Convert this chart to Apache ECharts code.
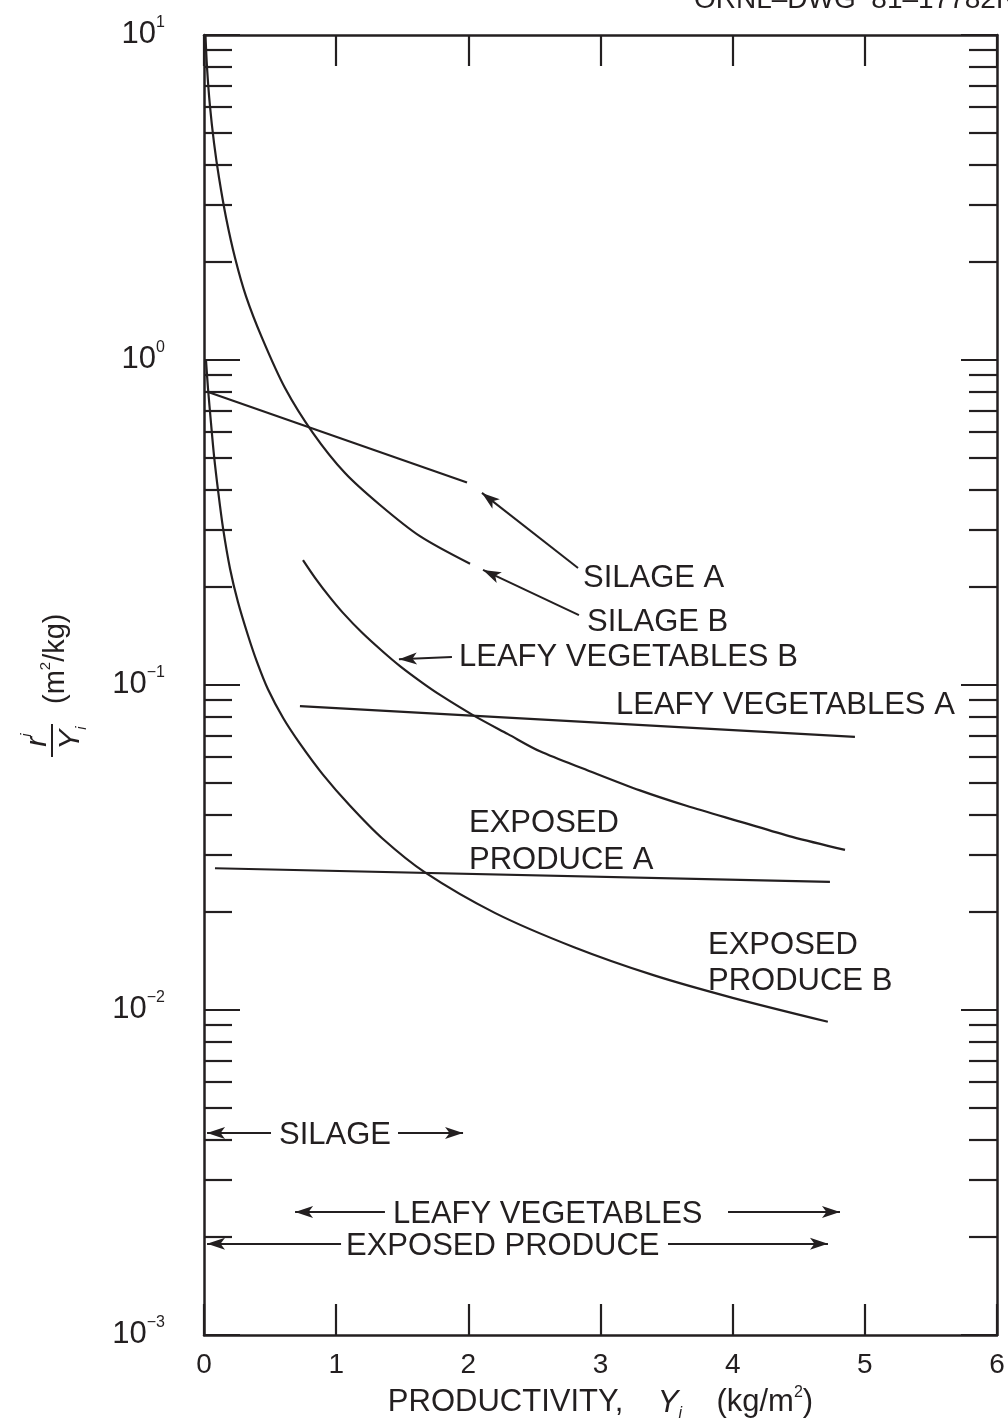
<!DOCTYPE html>
<html>
<head>
<meta charset="utf-8">
<script src="https://cdn.jsdelivr.net/npm/echarts@6/dist/echarts.min.js"></script>
<style>
  html, body { margin: 0; padding: 0; background: #ffffff; }
  #chart { width: 1008px; height: 1418px; }
</style>
</head>
<body>
<div id="chart"></div>
<script>
// Ratio r^i / Y_i (m^2/kg) against productivity Y_i (kg/m^2) for each crop class.
const INK = '#231f20';
const FONT = '"Liberation Sans", Arial, Helvetica, sans-serif';

// x tick values (kg/m^2)
const xTicks = [0, 1, 2, 3, 4, 5, 6];
// decade ticks and intermediate ticks of the log axis (m^2/kg)
const yDecades = [0.001, 0.01, 0.1, 1, 10];
const yMinor = [
  0.002, 0.003, 0.004, 0.005, 0.006, 0.007, 0.008, 0.009,
  0.02, 0.03, 0.04, 0.05, 0.06, 0.07, 0.08, 0.09,
  0.2, 0.3, 0.4, 0.5, 0.6, 0.7, 0.8, 0.9,
  2, 3, 4, 5, 6, 7, 8, 9
];

// Silage A
const silageAX = [0.02, 1.99];
const silageAY = [0.80, 0.42];
// Silage B
const silageBX = [0.011, 0.023, 0.045, 0.076, 0.114, 0.167, 0.235, 0.318, 0.439, 0.613, 0.825, 1.067, 1.332, 1.634, 2.013];
const silageBY = [10.0, 7.93, 6.05, 4.65, 3.63, 2.74, 2.06, 1.57, 1.17, 0.82, 0.596, 0.449, 0.358, 0.287, 0.236];
// Leafy vegetables A
const leafyAX = [0.726, 4.925];
const leafyAY = [0.0861, 0.0692];
// Leafy vegetables B
const leafyBX = [0.749, 0.85, 0.953, 1.05, 1.195, 1.35, 1.483, 1.65, 1.786, 2.035, 2.3, 2.542, 2.9, 3.298, 3.65, 4.055, 4.45, 4.85];
const leafyBY = [0.2424, 0.211, 0.186, 0.167, 0.145, 0.127, 0.1143, 0.1017, 0.0932, 0.0808, 0.0706, 0.0625, 0.0547, 0.0474, 0.0425, 0.0380, 0.0341, 0.0311];
// Exposed produce A
const exposedAX = [0.083, 4.736];
const exposedAY = [0.0273, 0.0248];
// Exposed produce B
const exposedBX = [0.015, 0.030, 0.053, 0.076, 0.106, 0.144, 0.197, 0.257, 0.333, 0.40, 0.484, 0.60, 0.726, 0.90, 1.105, 1.35, 1.672, 2.2, 2.8, 3.4, 4.0, 4.72];
const exposedBY = [1.0, 0.82, 0.64, 0.507, 0.398, 0.304, 0.228, 0.180, 0.142, 0.118, 0.097, 0.079, 0.066, 0.053, 0.0425, 0.0337, 0.0265, 0.0199, 0.0156, 0.0128, 0.0109, 0.0092];

// Pointer arrows from the curve labels: [fromX, fromY, toX, toY]
const pointerArrows = [
  [2.830, 0.229, 2.103, 0.390],   // SILAGE A
  [2.837, 0.164, 2.111, 0.226],   // SILAGE B
  [1.876, 0.122, 1.475, 0.120]    // LEAFY VEGETABLES B
];
// Productivity ranges of the crop classes: [fromX, toX, y]
const rangeArrows = [
  [0.507, 0.023, 0.00418], [1.468, 1.960, 0.00418],   // SILAGE
  [1.369, 0.689, 0.00239], [3.965, 4.812, 0.00239],   // LEAFY VEGETABLES
  [1.037, 0.023, 0.00191], [3.511, 4.721, 0.00191]    // EXPOSED PRODUCE
];

function pairs(xs, ys) { return xs.map((x, i) => [x, ys[i]]); }

function curve(name, xs, ys) {
  return {
    name: name,
    type: 'line',
    data: pairs(xs, ys),
    showSymbol: false,
    smooth: 0.3,
    lineStyle: { color: INK, width: 2.2 },
    silent: true,
    z: 3
  };
}

const arrowLines = pointerArrows.map(a => [{ coord: [a[0], a[1]] }, { coord: [a[2], a[3]] }])
  .concat(rangeArrows.map(a => [{ coord: [a[0], a[2]] }, { coord: [a[1], a[2]] }]));

function decadeLabel(v) {
  const e = Math.round(Math.log10(v));
  return '{b|10}{s|' + (e < 0 ? '\u2212' + (-e) : String(e)) + '}';
}

const axisLineStyle = { color: INK, width: 2.5 };
const tickStyle = { color: INK, width: 2.2 };

function yAxisDef(position, ticks, length, withLine, withLabels) {
  return {
    type: 'log',
    logBase: 10,
    min: 0.001,
    max: 10,
    position: position,
    axisLine: { show: withLine, onZero: false, lineStyle: axisLineStyle },
    axisTick: { show: true, inside: true, length: length, customValues: ticks, lineStyle: tickStyle },
    axisLabel: withLabels ? {
      show: true,
      customValues: yDecades,
      margin: 39,
      fontSize: 31,
      fontFamily: FONT,
      color: INK,
      padding: [0, 0, 2, 0],
      formatter: decadeLabel,
      rich: {
        b: { fontSize: 31, fontFamily: FONT, color: INK, lineHeight: 36 },
        s: { fontSize: 16, fontFamily: FONT, color: INK, lineHeight: 16, padding: [0, 0, 22, 0] }
      }
    } : { show: false },
    splitLine: { show: false },
    minorTick: { show: false }
  };
}

const chart = echarts.init(document.getElementById('chart'), null, { renderer: 'canvas' });

chart.setOption({
  animation: false,
  backgroundColor: '#ffffff',
  grid: { left: 204, right: 11, top: 35, bottom: 83, containLabel: false, outerBoundsMode: 'none' },
  xAxis: [
    {
      type: 'value', min: 0, max: 6, interval: 1, position: 'bottom',
      axisLine: { show: true, onZero: false, lineStyle: axisLineStyle },
      axisTick: { show: true, inside: true, length: 31, lineStyle: tickStyle },
      axisLabel: {
        show: true, margin: 16, fontSize: 28, fontFamily: FONT, color: INK,
        customValues: xTicks, formatter: v => String(v)
      },
      splitLine: { show: false },
      name: '{t|PRODUCTIVITY,}{t|    }{i|Y}{sub|i}{t|    (kg/m}{sup|2}{t|)}',
      nameLocation: 'middle',
      nameGap: 43,
      nameTextStyle: {
        fontSize: 31,
        fontFamily: FONT,
        color: INK,
        rich: {
          t: { fontSize: 31, fontFamily: FONT, color: INK, lineHeight: 34 },
          i: { fontSize: 31, fontFamily: FONT, fontStyle: 'italic', color: INK, lineHeight: 34 },
          sub: { fontSize: 16, fontFamily: FONT, fontStyle: 'italic', color: INK, lineHeight: 16, padding: [22, 0, 0, 0] },
          sup: { fontSize: 16, fontFamily: FONT, color: INK, lineHeight: 16, padding: [0, 0, 20, 0] }
        }
      }
    },
    {
      type: 'value', min: 0, max: 6, interval: 1, position: 'top',
      axisLine: { show: true, onZero: false, lineStyle: axisLineStyle },
      axisTick: { show: true, inside: true, length: 31, lineStyle: tickStyle },
      axisLabel: { show: false },
      splitLine: { show: false }
    }
  ],
  yAxis: [
    yAxisDef('left', yDecades, 36, true, true),
    yAxisDef('left', yMinor, 28, false, false),
    yAxisDef('right', yDecades, 36, true, false),
    yAxisDef('right', yMinor, 28, false, false)
  ],
  series: [
    curve('SILAGE A', silageAX, silageAY),
    curve('SILAGE B', silageBX, silageBY),
    curve('LEAFY VEGETABLES A', leafyAX, leafyAY),
    curve('LEAFY VEGETABLES B', leafyBX, leafyBY),
    curve('EXPOSED PRODUCE A', exposedAX, exposedAY),
    curve('EXPOSED PRODUCE B', exposedBX, exposedBY),
    {
      name: 'arrows',
      type: 'line',
      data: [],
      silent: true,
      markLine: {
        silent: true,
        animation: false,
        symbol: ['none', 'arrow'],
        symbolSize: [9, 18],
        lineStyle: { color: INK, width: 2, type: 'solid' },
        label: { show: false },
        emphasis: { disabled: true },
        data: arrowLines
      }
    }
  ],
  graphic: [
    // drawing number, cut by the top edge
    { type: 'text', left: 694, top: -14, style: { text: 'ORNL\u2013DWG  81\u201317782R', font: '28px ' + FONT, fill: INK } },
    // curve labels
    { type: 'text', x: 583, y: 578, style: { text: 'SILAGE A', font: '31px ' + FONT, fill: INK, verticalAlign: 'middle' } },
    { type: 'text', x: 587, y: 622, style: { text: 'SILAGE B', font: '31px ' + FONT, fill: INK, verticalAlign: 'middle' } },
    { type: 'text', x: 459, y: 657, style: { text: 'LEAFY VEGETABLES B', font: '31px ' + FONT, fill: INK, verticalAlign: 'middle' } },
    { type: 'text', x: 616, y: 705, style: { text: 'LEAFY VEGETABLES A', font: '31px ' + FONT, fill: INK, verticalAlign: 'middle' } },
    { type: 'text', x: 469, y: 823, style: { text: 'EXPOSED', font: '31px ' + FONT, fill: INK, verticalAlign: 'middle' } },
    { type: 'text', x: 469, y: 860, style: { text: 'PRODUCE A', font: '31px ' + FONT, fill: INK, verticalAlign: 'middle' } },
    { type: 'text', x: 708, y: 945, style: { text: 'EXPOSED', font: '31px ' + FONT, fill: INK, verticalAlign: 'middle' } },
    { type: 'text', x: 708, y: 981, style: { text: 'PRODUCE B', font: '31px ' + FONT, fill: INK, verticalAlign: 'middle' } },
    // range labels
    { type: 'text', x: 279, y: 1135, style: { text: 'SILAGE', font: '31px ' + FONT, fill: INK, verticalAlign: 'middle' } },
    { type: 'text', x: 393, y: 1214, style: { text: 'LEAFY VEGETABLES', font: '31px ' + FONT, fill: INK, verticalAlign: 'middle' } },
    { type: 'text', x: 346, y: 1246, style: { text: 'EXPOSED PRODUCE', font: '31px ' + FONT, fill: INK, verticalAlign: 'middle' } },
    // vertical axis title: r^i / Y_i  (m^2/kg), read bottom to top
    {
      type: 'group', x: 52, y: 740, rotation: Math.PI / 2,
      children: [
        { type: 'text', x: 0, y: -14, style: {
            text: '{v|r}{s|i}', align: 'center', verticalAlign: 'middle',
            rich: {
              v: { fontSize: 30, fontFamily: FONT, fontStyle: 'italic', fill: INK, lineHeight: 32 },
              s: { fontSize: 15, fontFamily: FONT, fontStyle: 'italic', fill: INK, lineHeight: 15, padding: [0, 0, 22, 0] }
            } } },
        { type: 'line', shape: { x1: -17, y1: 0, x2: 16, y2: 0 }, style: { stroke: INK, lineWidth: 2 } },
        { type: 'text', x: 2, y: 19, style: {
            text: '{v|Y}{s|i}', align: 'center', verticalAlign: 'middle',
            rich: {
              v: { fontSize: 30, fontFamily: FONT, fontStyle: 'italic', fill: INK, lineHeight: 32 },
              s: { fontSize: 15, fontFamily: FONT, fontStyle: 'italic', fill: INK, lineHeight: 15, padding: [22, 0, 0, 0] }
            } } },
        { type: 'text', x: 36, y: 4, style: {
            text: '{t|(m}{s|2}{t|/kg)}', align: 'left', verticalAlign: 'middle',
            rich: {
              t: { fontSize: 29, fontFamily: FONT, fill: INK, lineHeight: 32 },
              s: { fontSize: 15, fontFamily: FONT, fill: INK, lineHeight: 15, padding: [0, 0, 20, 0] }
            } } }
      ]
    }
  ]
});
</script>
</body>
</html>
